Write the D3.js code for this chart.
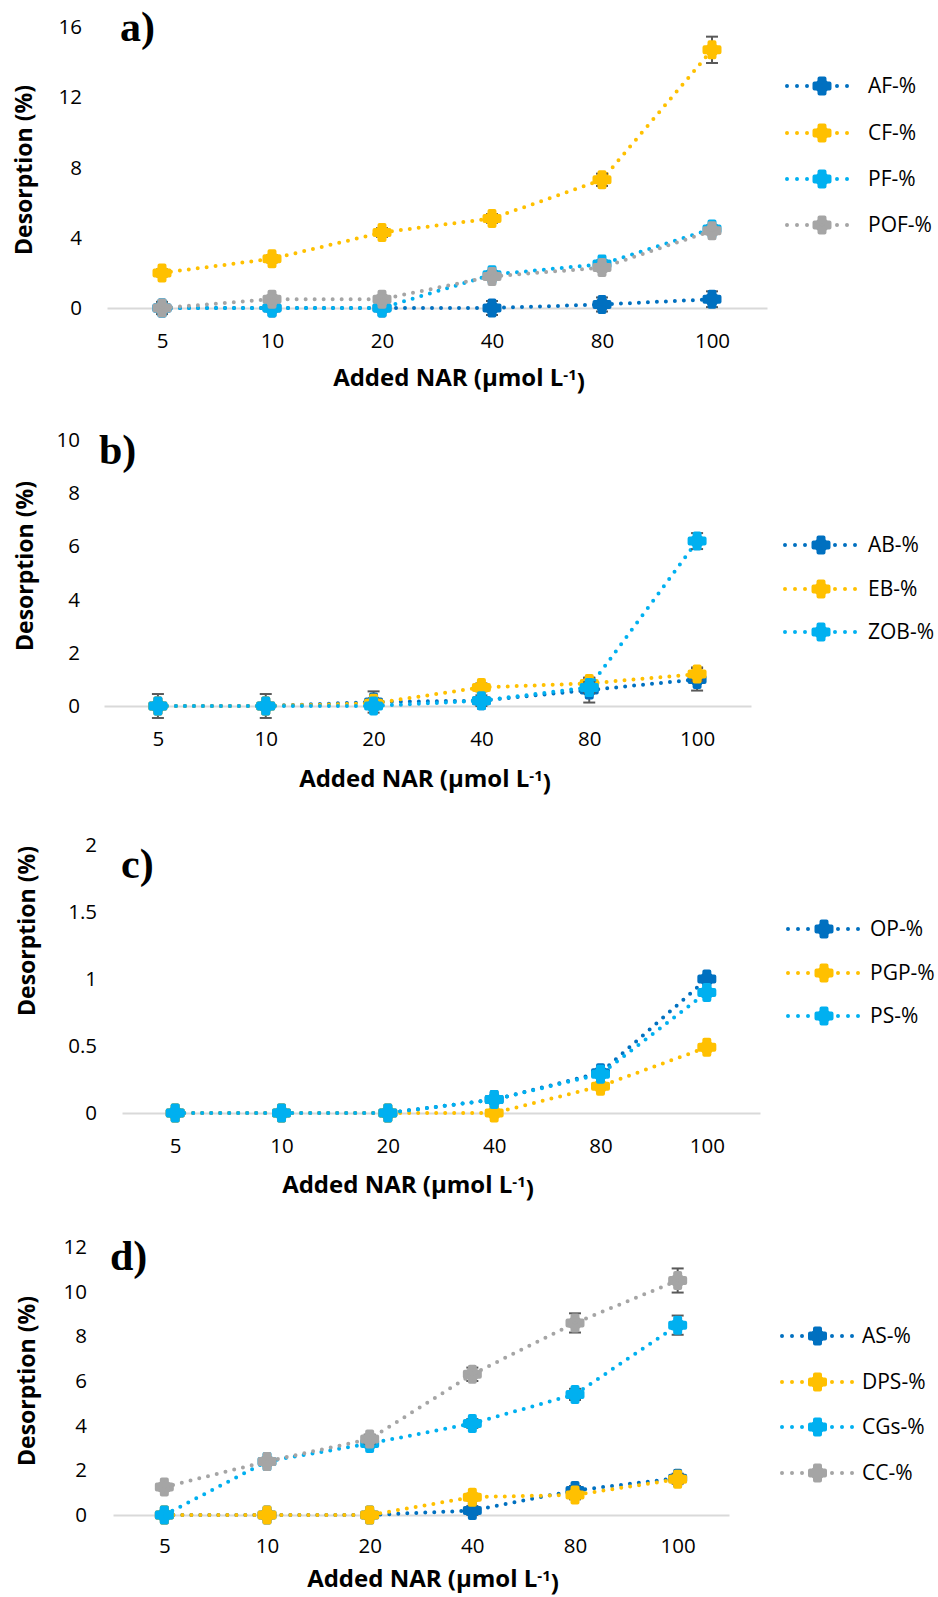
<!DOCTYPE html>
<html>
<head>
<meta charset="utf-8">
<script src="https://cdn.jsdelivr.net/npm/d3@7"></script>
<style>
  html, body { margin: 0; padding: 0; background: #fff; }
  svg { display: block; }
</style>
</head>
<body>
<svg id="chart" width="938" height="1597"></svg>
<script>
// ---------- data ----------
const categories = ["5", "10", "20", "40", "80", "100"];

// panel a
const seriesNamesA = ["AF-%", "CF-%", "PF-%", "POF-%"];
const afValues  = [0, 0, 0, 0, 0.2, 0.5];
const cfValues  = [2.0, 2.8, 4.3, 5.1, 7.3, 14.7];
const pfValues  = [0, 0, 0, 1.9, 2.5, 4.5];
const pofValues = [0, 0.5, 0.5, 1.8, 2.3, 4.4];
const afErrors  = [0.35, 0, 0, 0.4, 0.4, 0.45];
const cfErrors  = [0.2, 0.2, 0.25, 0.25, 0.35, 0.75];
const pfErrors  = [0, 0, 0, 0.2, 0.2, 0.2];
const pofErrors = [0.1, 0.1, 0.1, 0.2, 0.2, 0.2];
const yTicksA = [0, 4, 8, 12, 16];

// panel b
const seriesNamesB = ["AB-%", "EB-%", "ZOB-%"];
const abValues  = [0, 0, 0.15, 0.2, 0.6, 1.0];
const ebValues  = [0, 0, 0.1, 0.7, 0.85, 1.2];
const zobValues = [0, 0, 0, 0.2, 0.7, 6.2];
const abErrors  = [0.45, 0.45, 0.4, 0.2, 0.47, 0.42];
const ebErrors  = [0, 0, 0.1, 0.15, 0.2, 0.25];
const zobErrors = [0, 0, 0, 0.1, 0.2, 0.3];
const yTicksB = [0, 2, 4, 6, 8, 10];

// panel c
const seriesNamesC = ["OP-%", "PGP-%", "PS-%"];
const opValues  = [0, 0, 0, 0.1, 0.3, 1.0];
const pgpValues = [0, 0, 0, 0, 0.2, 0.49];
const psValues  = [0, 0, 0, 0.1, 0.29, 0.9];
const opErrors  = [0, 0, 0, 0, 0, 0];
const pgpErrors = [0, 0, 0, 0, 0, 0];
const psErrors  = [0, 0, 0, 0, 0, 0];
const yTicksC = [0, 0.5, 1, 1.5, 2];

// panel d
const seriesNamesD = ["AS-%", "DPS-%", "CGs-%", "CC-%"];
const asValues  = [0, 0, 0, 0.2, 1.1, 1.65];
const dpsValues = [0, 0, 0, 0.8, 0.9, 1.6];
const cgsValues = [0, 2.4, 3.2, 4.1, 5.4, 8.5];
const ccValues  = [1.25, 2.4, 3.4, 6.3, 8.6, 10.5];
const asErrors  = [0, 0, 0, 0.2, 0.2, 0.2];
const dpsErrors = [0, 0, 0, 0.15, 0.2, 0.2];
const cgsErrors = [0, 0, 0, 0.2, 0.25, 0.43];
const ccErrors  = [0.15, 0.15, 0.2, 0.3, 0.43, 0.54];
const yTicksD = [0, 2, 4, 6, 8, 10, 12];

const panelLetters = ["a)", "b)", "c)", "d)"];
const xTitleText = "Added NAR (µmol L";
const yTitleText = "Desorption (%)";

// ---------- styling / layout ----------
const palette = ["#0070C0", "#FFC000", "#00B0F0", "#A5A5A5"];
const sansFont = "'Open Sans', 'Liberation Sans', sans-serif";

const panels = [
  { names: seriesNamesA, values: [afValues, cfValues, pfValues, pofValues],
    errors: [afErrors, cfErrors, pfErrors, pofErrors], ticks: yTicksA,
    x0: 107, x1: 767, zero: 308, top: 27, labelRight: 82, tickDy: 33,
    titleX: 459, titleDy: 70, yTitleX: 24, yTitleY: 170, letterX: 120, letterY: 41,
    legY: [86, 133, 179, 225], legX0: 787, legX1: 857, legText: 868 },
  { names: seriesNamesB, values: [abValues, ebValues, zobValues],
    errors: [abErrors, ebErrors, zobErrors], ticks: yTicksB,
    x0: 104, x1: 751, zero: 706, top: 440, labelRight: 80, tickDy: 33,
    titleX: 425, titleDy: 73, yTitleX: 25, yTitleY: 566, letterX: 99, letterY: 464,
    legY: [545, 589, 632], legX0: 785, legX1: 857, legText: 868 },
  { names: seriesNamesC, values: [opValues, pgpValues, psValues],
    errors: [opErrors, pgpErrors, psErrors], ticks: yTicksC,
    x0: 122, x1: 760, zero: 1113, top: 845, labelRight: 97, tickDy: 33,
    titleX: 408, titleDy: 72, yTitleX: 27, yTitleY: 931, letterX: 121, letterY: 878,
    legY: [929, 973, 1016], legX0: 788, legX1: 860, legText: 870 },
  { names: seriesNamesD, values: [asValues, dpsValues, cgsValues, ccValues],
    errors: [asErrors, dpsErrors, cgsErrors, ccErrors], ticks: yTicksD,
    x0: 113, x1: 729, zero: 1515, top: 1247, labelRight: 87, tickDy: 31,
    titleX: 433, titleDy: 64, yTitleX: 27, yTitleY: 1381, letterX: 110, letterY: 1270,
    legY: [1336, 1382, 1427, 1473], legX0: 782, legX1: 853, legText: 862 }
];

const svg = d3.select("#chart");
svg.append("rect").attr("width", 938).attr("height", 1597).attr("fill", "#fff");

const markerPath = d3.symbol().type(d3.symbolCross).size(125)();

function drawMarker(g, cx, cy, color) {
  const m = g.append("g").attr("transform", `translate(${cx},${cy})`);
  m.append("circle").attr("r", 7).attr("fill", color);
  m.append("path")
    .attr("d", markerPath)
    .attr("fill", color)
    .attr("stroke", color)
    .attr("stroke-width", 4)
    .attr("stroke-linejoin", "round");
}

panels.forEach((p, pi) => {
  const g = svg.append("g");
  const x = d3.scalePoint().domain(categories).range([p.x0, p.x1]).padding(0.5);
  const yMax = p.ticks[p.ticks.length - 1];
  const y = d3.scaleLinear().domain([0, yMax]).range([p.zero, p.top]);

  // x axis (domain = zero line)
  const xAxis = g.append("g")
    .attr("transform", `translate(0,${p.zero})`)
    .call(d3.axisBottom(x).tickSize(0).tickSizeOuter(0));
  xAxis.select(".domain").attr("stroke", "#D9D9D9").attr("stroke-width", 2);
  xAxis.selectAll("text")
    .attr("y", p.tickDy).attr("dy", "0.35em")
    .attr("font-family", sansFont).attr("font-size", 20.5).attr("fill", "#000");

  // y axis labels only
  const yAxis = g.append("g")
    .attr("transform", `translate(${p.x0},0)`)
    .call(d3.axisLeft(y).tickValues(p.ticks).tickSize(0)
      .tickPadding(p.x0 - p.labelRight).tickFormat(d3.format("~g")));
  yAxis.select(".domain").remove();
  yAxis.selectAll("text")
    .attr("font-family", sansFont).attr("font-size", 20.5).attr("fill", "#000");

  // x title
  const xt = g.append("text")
    .attr("x", p.titleX).attr("y", p.zero + p.titleDy).attr("dy", "0.35em")
    .attr("text-anchor", "middle")
    .attr("font-family", sansFont).attr("font-weight", "bold").attr("font-size", 24)
    .attr("fill", "#000");
  xt.append("tspan").text(xTitleText);
  xt.append("tspan").attr("dy", "-0.45em").attr("font-size", 15).text("-1");
  xt.append("tspan").attr("dy", "0.45em").text(")");

  // y title
  g.append("text")
    .attr("transform", `translate(${p.yTitleX},${p.yTitleY}) rotate(-90)`)
    .attr("dy", "0.35em")
    .attr("text-anchor", "middle")
    .attr("font-family", sansFont).attr("font-weight", "bold").attr("font-size", 23)
    .attr("fill", "#000")
    .text(yTitleText);

  // panel letter
  g.append("text")
    .attr("x", p.letterX).attr("y", p.letterY)
    .attr("font-family", "'Liberation Serif', 'Times New Roman', serif")
    .attr("font-weight", "bold").attr("font-size", 42).attr("fill", "#000")
    .text(panelLetters[pi]);

  // series
  p.values.forEach((vals, si) => {
    const color = palette[si];
    const pts = categories.map((c, i) => ({ c, v: vals[i], e: p.errors[si][i] }));
    const line = d3.line().x(d => x(d.c)).y(d => y(d.v));
    g.append("path")
      .attr("d", line(pts))
      .attr("fill", "none")
      .attr("stroke", color)
      .attr("stroke-width", 4)
      .attr("stroke-linecap", "round")
      .attr("stroke-dasharray", "0 9");

    // error bars
    pts.filter(d => d.e > 0).forEach(d => {
      const cx = x(d.c);
      const yl = y(d.v - d.e), yh = y(d.v + d.e);
      const eg = g.append("g").attr("stroke", "#595959").attr("stroke-width", 2);
      eg.append("line").attr("x1", cx).attr("x2", cx).attr("y1", yl).attr("y2", yh);
      eg.append("line").attr("x1", cx - 6).attr("x2", cx + 6).attr("y1", yl).attr("y2", yl);
      eg.append("line").attr("x1", cx - 6).attr("x2", cx + 6).attr("y1", yh).attr("y2", yh);
    });

    pts.forEach(d => drawMarker(g, x(d.c), y(d.v), color));
  });

  // legend
  p.names.forEach((name, si) => {
    const color = palette[si];
    const ly = p.legY[si];
    g.append("line")
      .attr("x1", p.legX0).attr("x2", p.legX1).attr("y1", ly).attr("y2", ly)
      .attr("stroke", color).attr("stroke-width", 4)
      .attr("stroke-linecap", "round").attr("stroke-dasharray", "0 10");
    drawMarker(g, (p.legX0 + p.legX1) / 2, ly, color);
    g.append("text")
      .attr("x", p.legText).attr("y", ly).attr("dy", "0.35em")
      .attr("font-family", sansFont).attr("font-size", 21).attr("fill", "#000")
      .text(name);
  });
});
</script>
</body>
</html>
